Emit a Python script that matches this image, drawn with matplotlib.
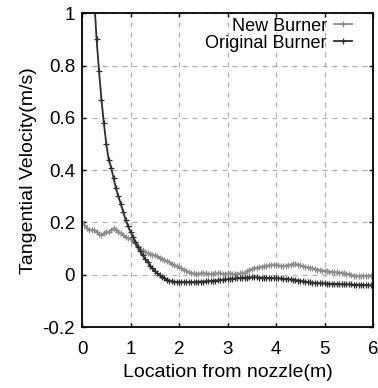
import numpy as np
import matplotlib
matplotlib.use("Agg")
import matplotlib.pyplot as plt

plt.rcParams['font.family'] = ['Liberation Sans', 'DejaVu Sans']

# ---- data ----
x_orig = np.round(np.arange(0.25, 6.0001, 0.05), 2)
y_orig = [1.06, 0.90, 0.78, 0.67, 0.58, 0.50, 0.44, 0.41, 0.37, 0.33,
          0.30, 0.27, 0.24, 0.21, 0.185, 0.165, 0.145, 0.125, 0.105, 0.09,
          0.075, 0.06, 0.05, 0.035, 0.025, 0.015, 0.005, -0.002, -0.008, -0.014,
          -0.019, -0.023, -0.025, -0.027, -0.028, -0.028, -0.028, -0.028, -0.028, -0.028,
          -0.028, -0.028, -0.027, -0.027, -0.026, -0.026, -0.025, -0.025, -0.024, -0.023,
          -0.022, -0.021, -0.020, -0.019, -0.018, -0.017, -0.016, -0.015, -0.014, -0.013,
          -0.012, -0.012, -0.011, -0.011, -0.010, -0.010, -0.010, -0.010, -0.011, -0.011,
          -0.011, -0.012, -0.012, -0.012, -0.013, -0.013, -0.014, -0.014, -0.015, -0.016,
          -0.017, -0.018, -0.019, -0.020, -0.022, -0.023, -0.025, -0.026, -0.027, -0.029,
          -0.030, -0.031, -0.032, -0.032, -0.033, -0.033, -0.034, -0.034, -0.035, -0.035,
          -0.035, -0.036, -0.036, -0.036, -0.037, -0.037, -0.037, -0.038, -0.038, -0.038,
          -0.039, -0.039, -0.039, -0.040, -0.040, -0.040]

x_new = np.round(np.arange(0.0, 6.0001, 0.05), 2)
y_new = [0.205, 0.19, 0.18, 0.172, 0.17, 0.172, 0.165, 0.155, 0.152, 0.158,
         0.165, 0.162, 0.172, 0.178, 0.172, 0.165, 0.158, 0.152, 0.145, 0.14,
         0.136, 0.13, 0.12, 0.11, 0.10, 0.094, 0.088, 0.084, 0.08, 0.077,
         0.074, 0.07, 0.065, 0.06, 0.056, 0.052, 0.047, 0.042, 0.037, 0.033,
         0.03, 0.025, 0.02, 0.015, 0.01, 0.007, 0.005, 0.004, 0.004, 0.005,
         0.006, 0.005, 0.004, 0.003, 0.004, 0.005, 0.006, 0.005, 0.004, 0.004,
         0.005, 0.005, 0.004, 0.003, 0.004, 0.005, 0.005, 0.008, 0.014, 0.018,
         0.022, 0.025, 0.027, 0.029, 0.031, 0.033, 0.034, 0.036, 0.038, 0.039,
         0.038, 0.036, 0.034, 0.033, 0.035, 0.037, 0.039, 0.041, 0.041, 0.039,
         0.036, 0.033, 0.030, 0.028, 0.026, 0.024, 0.022, 0.020, 0.018, 0.016,
         0.015, 0.013, 0.012, 0.011, 0.010, 0.009, 0.008, 0.008, 0.006, 0.004,
         0.002, 0.000, -0.003, -0.004, -0.005, -0.005, -0.004, -0.004, -0.005, -0.003,
         0.000]

x_ticks = [0, 1, 2, 3, 4, 5, 6]
y_ticks = [-0.2, 0, 0.2, 0.4, 0.6, 0.8, 1]
y_tick_labels = ['-0.2', '0', '0.2', '0.4', '0.6', '0.8', '1']

fig = plt.figure(figsize=(3.78, 3.88), dpi=100)
ax = fig.add_axes([0.217, 0.157, 0.770, 0.809])

ax.plot(x_new, y_new, color='#8c8c8c', lw=1.3, marker='+', ms=4, mew=0.9,
        label='New Burner')
ax.plot(x_orig, y_orig, color='#2e2e2e', lw=1.3, marker='+', ms=4, mew=0.9,
        label='Original Burner')

ax.set_xlim(0, 6)
ax.set_ylim(-0.2, 1)
ax.set_xticks(x_ticks)
ax.set_xticklabels([str(t) for t in x_ticks])
ax.set_yticks(y_ticks)
ax.set_yticklabels(y_tick_labels)
ax.tick_params(direction='in', top=True, right=True, length=3, width=1,
               labelsize=13.5)
ax.tick_params(axis='x', pad=10)
ax.tick_params(axis='y', pad=5)
for s in ax.spines.values():
    s.set_linewidth(1.3)
    s.set_color('black')
ax.grid(True, color='#b0b0b0', linestyle=(0, (4, 4)), lw=0.9)

ax.set_xlabel('Location from nozzle(m)', fontsize=14, labelpad=4)
ax.set_ylabel('Tangential Velocity(m/s)', fontsize=14, labelpad=4)

leg = ax.legend(loc='upper right', bbox_to_anchor=(0.965, 1.02), frameon=False,
                markerfirst=False, handlelength=1.0, handletextpad=0.4,
                labelspacing=0.0, fontsize=13, borderaxespad=0.2)
for t in leg.get_texts():
    t.set_ha('right')

fig.savefig('out.png', dpi=100)
